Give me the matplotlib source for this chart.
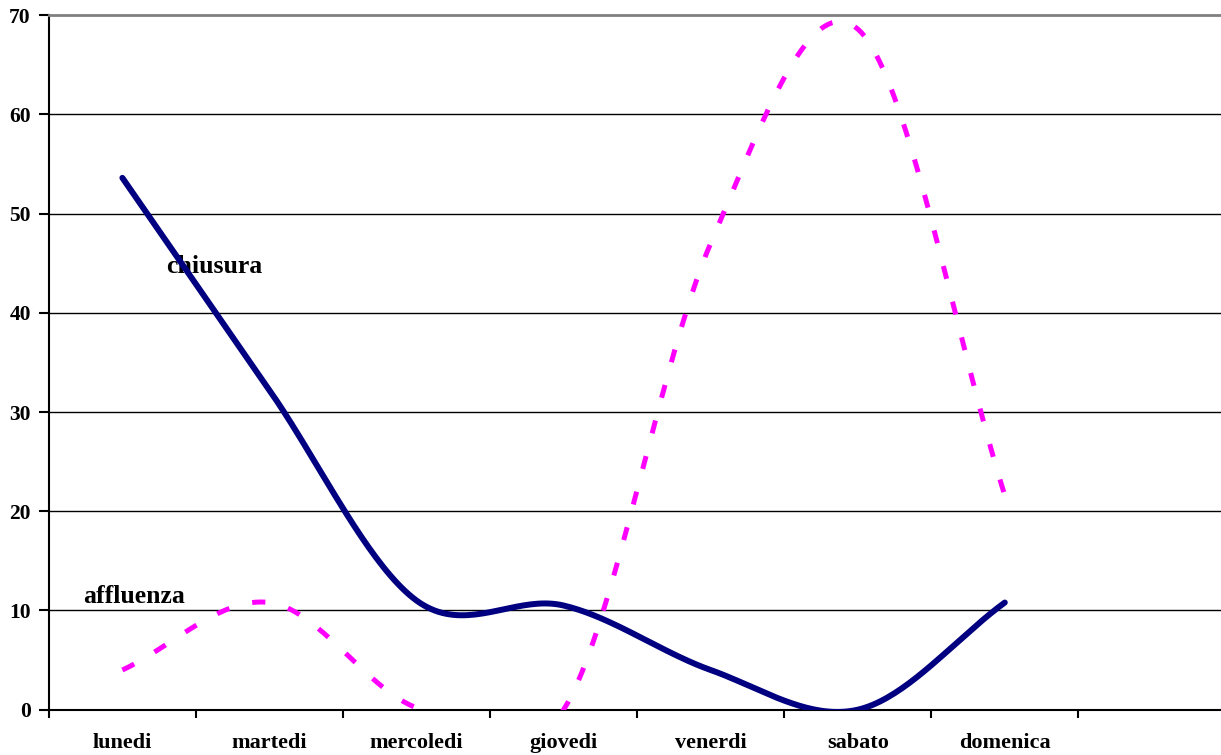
import numpy as np
from matplotlib import pyplot

days = ["lunedi", "martedi", "mercoledi", "giovedi", "venerdi", "sabato", "domenica"]
chiusura = [53.6, 32.2, 11.0, 10.5, 4.0, 0.0, 10.8]
affluenza = [4.0, 10.8, 0.2, 0.0, 47.0, 68.6, 21.6]
y_ticks = [0, 10, 20, 30, 40, 50, 60, 70]


def smooth(values, steps=40):
    # excel style smoothed line: one cubic bezier per segment, catmull-rom tangents
    v = np.asarray(values, dtype=float)
    n = len(v)
    slopes = np.empty(n)
    slopes[1:-1] = (v[2:] - v[:-2]) / 2
    slopes[0] = v[1] - v[0]
    slopes[-1] = v[-1] - v[-2]
    t = np.linspace(0, 1, steps, endpoint=False)
    xs, ys = [], []
    for i in range(n - 1):
        p0, p3 = v[i], v[i + 1]
        p1 = p0 + slopes[i] / 3
        p2 = p3 - slopes[i + 1] / 3
        ys.append((1 - t) ** 3 * p0 + 3 * (1 - t) ** 2 * t * p1 + 3 * (1 - t) * t ** 2 * p2 + t ** 3 * p3)
        xs.append(i + t)
    xs.append([n - 1])
    ys.append([v[-1]])
    return np.concatenate(xs), np.concatenate(ys)


NAVY = "#000080"
PINK = "#FF00FF"
FONT = "Liberation Serif"
pyplot.rcParams["lines.scale_dashes"] = False

figure, axis = pyplot.subplots(figsize=(12.21, 7.55), dpi=100)
figure.subplots_adjust(left=0.040, right=1.0, top=0.980, bottom=0.060)

x, y = smooth(chiusura)
axis.plot(x, y, color=NAVY, lw=4.3, solid_capstyle="round", zorder=4)
x, y = smooth(affluenza)
axis.plot(x, y, color=PINK, lw=3.6, dashes=(9.5, 17), dash_capstyle="butt", zorder=4)

axis.set_xlim(-0.5, 7.47)
axis.set_ylim(0, 70)

axis.set_yticks(y_ticks)
axis.set_yticklabels([str(v) for v in y_ticks], fontsize=15.5, fontweight="bold", family=FONT)
axis.tick_params(axis="y", length=7, width=1.5, direction="out", pad=6)

axis.set_xticks(range(len(days)))
axis.set_xticklabels(days, fontsize=16, fontweight="bold", family=FONT)
axis.tick_params(axis="x", which="major", length=0, pad=17)
axis.set_xticks(np.arange(-0.5, 7.5, 1), minor=True)
axis.tick_params(axis="x", which="minor", length=6, width=1.5, direction="out")

axis.grid(axis="y", color="black", lw=1.0)
for line in axis.yaxis.get_gridlines()[:1] + axis.yaxis.get_gridlines()[-1:]:
    line.set_visible(False)
axis.set_axisbelow(True)

axis.spines["right"].set_visible(False)
axis.spines["top"].set_color("#808080")
axis.spines["top"].set_linewidth(2)
axis.spines["left"].set_linewidth(1.5)
axis.spines["bottom"].set_linewidth(1.5)

axis.text(0.30, 44.0, "chiusura", fontsize=18.5, fontweight="bold", family=FONT, va="baseline", zorder=3)
axis.text(-0.27, 10.8, "affluenza", fontsize=18.5, fontweight="bold", family=FONT, va="baseline", zorder=3)

figure.set_facecolor("white")
figure.savefig("out.png", dpi=100)
